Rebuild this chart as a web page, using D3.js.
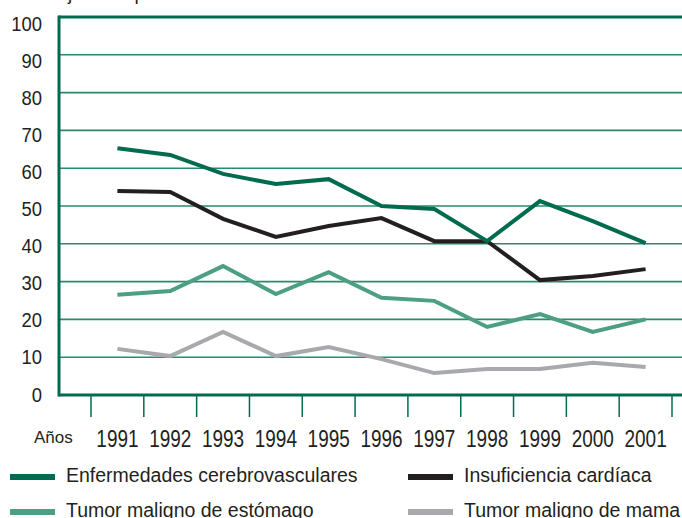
<!DOCTYPE html>
<html>
<head>
<meta charset="utf-8">
<script src="https://cdn.jsdelivr.net/npm/d3@7"></script>
<style>
  body { margin: 0; background: #fff; }
  svg text { font-family: "Liberation Sans Narrow", "Arial Narrow", "Liberation Sans", sans-serif; fill: #231f20; }
</style>
</head>
<body>
<div id="chart"></div>
<script>
var years = ['1991','1992','1993','1994','1995','1996','1997','1998','1999','2000','2001'];
var yTicks = [0,10,20,30,40,50,60,70,80,90,100];
var cerebro = [65.3,63.5,58.5,55.8,57.1,50,49.2,40.7,51.3,46,40.2];
var insuf = [54,53.7,46.6,41.8,44.7,46.8,40.7,40.7,30.4,31.5,33.3];
var estomago = [26.5,27.5,34.1,26.7,32.5,25.7,24.9,18,21.4,16.7,20];
var mama = [12.2,10.3,16.7,10.3,12.7,9.5,5.8,6.9,6.9,8.5,7.4];

var series = [
  {name: 'Enfermedades cerebrovasculares', values: cerebro, color: '#006b4f'},
  {name: 'Insuficiencia cardíaca', values: insuf, color: '#231f20'},
  {name: 'Tumor maligno de estómago', values: estomago, color: '#4c9e84'},
  {name: 'Tumor maligno de mama', values: mama, color: '#a8a9ad'}
];

(function(){
var W = 682, H = 518;
var pLeft = 59, pTop = 17, pBottom = 395, pRight = 700;
var dark = '#006b4f';

var svg = d3.select('#chart').append('svg')
  .attr('width', W)
  .attr('height', H);

var y = d3.scaleLinear().domain([0, 100]).range([pBottom, pTop]);
// labels in the original sit on a slightly tighter spacing than the grid
var yLab = d3.scaleLinear().domain([0, 100]).range([401.5, 31]);
var x = d3.scaleBand().domain(years).range([91, 672]).padding(0);
var bw = x.bandwidth();

// title, mostly cut off at the top
svg.append('text')
  .text('Tasa ajustada por 100.000 habitantes')
  .attr('x', 12)
  .attr('y', 0)
  .attr('font-size', 19);

// gridlines
svg.selectAll('.grid')
  .data(yTicks.filter(function(d){ return d > 0 && d < 100; }))
  .enter().append('line')
  .attr('x1', pLeft).attr('x2', pRight)
  .attr('y1', function(d){ return y(d); })
  .attr('y2', function(d){ return y(d); })
  .style('stroke', '#2a8a6a')
  .style('stroke-width', 1.6);

// frame
svg.append('line')
  .attr('x1', pLeft).attr('x2', pRight)
  .attr('y1', y(100)).attr('y2', y(100))
  .style('stroke', dark).style('stroke-width', 3);
svg.append('line')
  .attr('x1', pLeft).attr('x2', pRight)
  .attr('y1', y(0)).attr('y2', y(0))
  .style('stroke', dark).style('stroke-width', 3);
svg.append('line')
  .attr('x1', pLeft).attr('x2', pLeft)
  .attr('y1', y(100) - 1.5).attr('y2', y(0) + 1.5)
  .style('stroke', dark).style('stroke-width', 3);

// y labels
svg.selectAll('.ylab')
  .data(yTicks)
  .enter().append('text')
  .text(function(d){ return d; })
  .attr('transform', function(d){ return 'translate(42,' + yLab(d) + ') scale(0.9,1)'; })
  .attr('text-anchor', 'end')
  .attr('font-size', 20.5);

// x separators
var seps = years.map(function(d){ return x(d); }).concat([x(years[years.length-1]) + bw]);
svg.selectAll('.sep')
  .data(seps)
  .enter().append('line')
  .attr('x1', function(d){ return d; })
  .attr('x2', function(d){ return d; })
  .attr('y1', y(0)).attr('y2', 417)
  .style('stroke', dark).style('stroke-width', 1.5);

// x labels
svg.selectAll('.xlab')
  .data(years)
  .enter().append('text')
  .text(function(d){ return d; })
  .attr('transform', function(d){ return 'translate(' + (x(d) + bw / 2) + ',446.5) scale(0.79,1)'; })
  .attr('text-anchor', 'middle')
  .attr('font-size', 24);

svg.append('text')
  .text('Años')
  .attr('x', 34)
  .attr('y', 443)
  .attr('font-size', 17);

// lines
var line = d3.line()
  .x(function(d, i){ return x(years[i]) + bw / 2; })
  .y(function(d){ return y(d); });

svg.selectAll('.series')
  .data(series.slice().reverse())
  .enter().append('path')
  .attr('d', function(d){ return line(d.values); })
  .style('fill', 'none')
  .style('stroke', function(d){ return d.color; })
  .style('stroke-width', 4)
  .style('stroke-linejoin', 'miter');

// legend
var legPos = [[10, 477], [408, 477], [10, 512], [408, 512]];
series.forEach(function(s, i){
  var p = legPos[i];
  svg.append('line')
    .attr('x1', p[0]).attr('x2', p[0] + 45)
    .attr('y1', p[1]).attr('y2', p[1])
    .style('stroke', s.color).style('stroke-width', 6);
  svg.append('text')
    .text(s.name)
    .attr('x', p[0] + 56)
    .attr('y', p[1] + 5)
    .attr('font-size', 19.5);
});
})();
</script>
</body>
</html>
